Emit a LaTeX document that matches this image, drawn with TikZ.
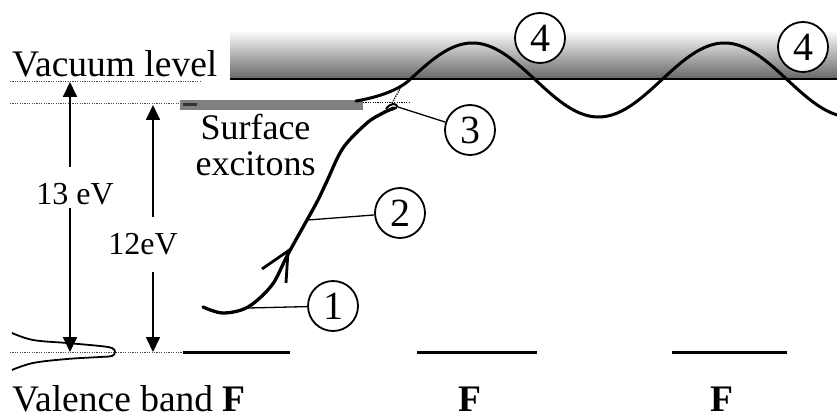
\documentclass[tikz,border=0pt]{standalone}
\usepackage{fontspec}
\setmainfont{Liberation Serif}
\usetikzlibrary{arrows.meta}
\begin{document}
\begin{tikzpicture}[x=1pt,y=-1pt,
  big/.style={font=\fontsize{37.5}{40}\selectfont, inner sep=0pt},
  mid/.style={font=\fontsize{32}{36}\selectfont, inner sep=0pt},
  num/.style={draw, circle, line width=1.8pt, fill=white, minimum size=50pt, inner sep=0pt, font=\fontsize{40}{40}\selectfont},
  leader/.style={line width=1.3pt},
  dotline/.style={line width=1pt, black!70, dash pattern=on 1.2pt off 1.2pt},
  level/.style={line width=3pt},
  earrow/.style={line width=1.8pt, -{Triangle[length=15pt,width=14pt]}},
  traj/.style={line width=3.3pt, line cap=round, line join=round},
]
\useasboundingbox (0,0) rectangle (837,419);

% vacuum gradient and level
\shade[top color=white, bottom color=black!60] (230,30) rectangle (837,79);
\draw[line width=2.5pt] (230,79) -- (837,79);

% dotted reference lines
\draw[dotline] (10,82) -- (200,82);
\draw[dotline] (10,104) -- (190,104);
\draw[dotline] (10,352) -- (183,352);

% exciton band
\fill[black!50] (180,100) rectangle (363,110);
\draw[line width=3pt, black!80] (183,105) -- (197,105);
\draw[dotline, black] (363,103) -- (410,103);

% F levels
\draw[level] (183,352) -- (290,352);
\draw[level] (417,352) -- (537,352);
\draw[level] (672,352) -- (787,352);

% valence band density
\draw[line width=1.8pt] plot[smooth, tension=0.6] coordinates {(12,333) (33,340) (67,343) (100,346) (112,348) (115,352) (112,356) (100,357) (67,359) (33,363) (12,370)};

% energy arrows
\coordinate (t13) at (70,82);
\coordinate (u13) at (70,167);
\coordinate (l13) at (70,208);
\coordinate (b13) at (70,352);
\coordinate (t12) at (153,105);
\coordinate (u12) at (153,217);
\coordinate (l12) at (153,272);
\coordinate (b12) at (153,352);
\draw[earrow] (u13) -- (t13);
\draw[earrow] (l13) -- (b13);
\draw[earrow] (u12) -- (t12);
\draw[earrow] (l12) -- (b12);

% trajectory
\draw[traj] plot[smooth, tension=0.55] coordinates {(203,307) (223,313) (248,307) (272,285) (287,256) (307,220) (318,200) (327,181) (343,148) (367,123) (383,113) (394,108)};
\draw[line width=2pt, line join=round] (383,112) .. controls (390,110) and (398,109) .. (397,106) .. controls (396,103) and (390,103) .. (386,109);
\draw[dotline, black, line width=1.3pt] (392,103) -- (401,87);
\draw[line width=2.8pt, line join=miter] (262,269) -- (288,251) -- (286,283);

% surface exciton to vacuum and wave
\draw[traj, line width=3pt] (356,101) .. controls (380,97) and (399.5,89.2) .. (409.5,80)
  -- plot[domain=409.5:837, samples=140, smooth] (\x, {80-37*sin((\x-409.5)*1.428571)});

% labels
\node[big, anchor=base west] (vac) at (12,77) {Vacuum level};
\node[inner sep=0pt, align=center, font=\fontsize{36}{36}\selectfont, anchor=north] (surf) at (255.5,114) {Surface\\excitons};
\node[mid, anchor=base] (e13) at (75,205) {13 eV};
\node[mid, anchor=base] (e12) at (143,255) {12eV};
\node[big, anchor=base west] (vb) at (12,411) {Valence band \textbf{F}};
\node[big, anchor=base] (f2) at (470,411) {\textbf{F}};
\node[big, anchor=base] (f3) at (722,411) {\textbf{F}};

% numbered circles
\node[num] (c1) at (333,306) {1};
\node[num] (c2) at (400,213) {2};
\node[num] (c3) at (470,130) {3};
\node[num] (c4a) at (540,38) {4};
\node[num] (c4b) at (803,47) {4};
\coordinate (p1) at (248,308);
\coordinate (p2) at (308,220);
\coordinate (p3) at (398,107);
\draw[leader] (c1) -- (p1);
\draw[leader] (c2) -- (p2);
\draw[leader] (c3) -- (p3);
\end{tikzpicture}
\end{document}
